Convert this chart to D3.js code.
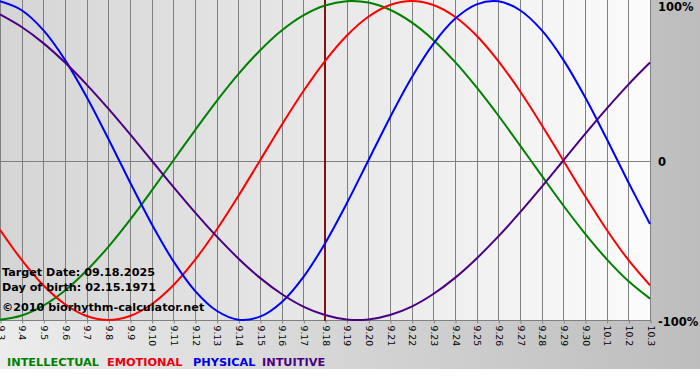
<!DOCTYPE html>
<html>
<head>
<meta charset="utf-8">
<script src="https://cdn.jsdelivr.net/npm/d3@7"></script>
<style>
  html, body { margin: 0; padding: 0; background: #ffffff; }
  svg { display: block; }
</style>
</head>
<body>
<svg id="chart" width="700" height="380"></svg>
<script>
// ---- data ----
const tickLabels = ["9.3","9.4","9.5","9.6","9.7","9.8","9.9","9.10","9.11","9.12","9.13","9.14","9.15","9.16","9.17","9.18","9.19","9.20","9.21","9.22","9.23","9.24","9.25","9.26","9.27","9.28","9.29","9.30","10.1","10.2","10.3"];
const intellectual = [-0.999,-0.972,-0.910,-0.815,-0.690,-0.541,-0.372,-0.189,0,0.189,0.372,0.541,0.690,0.815,0.910,0.972,0.999,0.990,0.945,0.866,0.756,0.618,0.458,0.282,0.095,-0.095,-0.282,-0.458,-0.618,-0.756,-0.866];
const emotional = [-0.434,-0.623,-0.782,-0.901,-0.975,-1,-0.975,-0.901,-0.782,-0.623,-0.434,-0.223,0,0.223,0.434,0.623,0.782,0.901,0.975,1,0.975,0.901,0.782,0.623,0.434,0.223,0,-0.223,-0.434,-0.623,-0.782];
const physical = [0.998,0.942,0.817,0.631,0.398,0.136,-0.136,-0.398,-0.631,-0.817,-0.942,-0.998,-0.979,-0.888,-0.731,-0.520,-0.270,0,0.270,0.520,0.731,0.888,0.979,0.998,0.942,0.817,0.631,0.398,0.136,-0.136,-0.398];
const intuitive = [0.916,0.837,0.736,0.614,0.476,0.325,0.165,0,-0.165,-0.325,-0.476,-0.614,-0.736,-0.837,-0.916,-0.969,-0.997,-0.997,-0.969,-0.916,-0.837,-0.736,-0.614,-0.476,-0.325,-0.165,0,0.165,0.325,0.476,0.614];
const seriesNames = ["INTELLECTUAL","EMOTIONAL","PHYSICAL","INTUITIVE"];
const targetIndex = 15;
const yTickValues = [1, 0, -1];
const yTickLabels = ["100%", "0", "-100%"];
const infoLines = ["Target Date: 09.18.2025", "Day of birth: 02.15.1971"];
const copyright = "\u00a92010 biorhythm-calculator.net";

// ---- styles ----
const colors = ["#008000", "#ff0000", "#0000ff", "#4b0082"];
const legendColors = ["#008000", "#e8000b", "#0000e0", "#4b0082"];
const legendX = [7, 107, 193, 262];
const font = "'DejaVu Sans', Verdana, sans-serif";

const svg = d3.select("#chart");
const defs = svg.append("defs");
const outerGrad = defs.append("linearGradient").attr("id", "outerGrad")
  .attr("x1", "0%").attr("x2", "100%").attr("y1", "0%").attr("y2", "0%");
outerGrad.append("stop").attr("offset", "0%").attr("stop-color", "#ececec");
outerGrad.append("stop").attr("offset", "100%").attr("stop-color", "#bdbdbd");
const plotGrad = defs.append("linearGradient").attr("id", "plotGrad")
  .attr("x1", "0%").attr("x2", "100%").attr("y1", "0%").attr("y2", "0%");
plotGrad.append("stop").attr("offset", "0%").attr("stop-color", "#d5d5d5");
plotGrad.append("stop").attr("offset", "100%").attr("stop-color", "#fbfbfb");

const W = 700;
const plotLeft = 0, plotRight = 650, plotTop = 0, plotBottom = 321;

svg.append("rect").attr("x", 0).attr("y", 0).attr("width", W).attr("height", 369)
  .attr("fill", "url(#outerGrad)");
svg.append("rect").attr("x", plotLeft).attr("y", plotTop)
  .attr("width", plotRight - plotLeft + 1).attr("height", plotBottom - plotTop)
  .attr("fill", "url(#plotGrad)");

const x = d3.scaleLinear().domain([0, tickLabels.length - 1]).range([plotLeft, plotRight]);
const y = d3.scaleLinear().domain([-1, 1]).range([320, 1]);

// vertical grid
svg.append("g").selectAll("line").data(d3.range(tickLabels.length)).join("line")
  .attr("x1", d => Math.round(x(d)) + 0.5).attr("x2", d => Math.round(x(d)) + 0.5)
  .attr("y1", plotTop).attr("y2", plotBottom)
  .attr("stroke", "#808080").attr("stroke-width", 1);
// zero line
svg.append("line")
  .attr("x1", plotLeft).attr("x2", plotRight + 1)
  .attr("y1", Math.round(y(0)) + 0.5).attr("y2", Math.round(y(0)) + 0.5)
  .attr("stroke", "#808080").attr("stroke-width", 1);

// x axis
const xAxis = d3.axisBottom(x)
  .tickValues(d3.range(tickLabels.length))
  .tickFormat(i => tickLabels[i])
  .tickSize(3).tickPadding(0);
const gx = svg.append("g").attr("transform", `translate(0.5,${plotBottom - 0.5})`).call(xAxis);
gx.select(".domain").attr("stroke", "#808080").attr("d", `M${plotLeft - 0.5},0H${plotRight + 0.5}`);
gx.selectAll(".tick line").attr("stroke", "#808080");
gx.selectAll(".tick text")
  .attr("font-family", font).attr("font-size", "9.3px").attr("fill", "#000")
  .attr("text-anchor", "start")
  .attr("transform", "translate(0,5) rotate(90)")
  .attr("x", 0).attr("y", 0).attr("dy", "0.35em");

// target marker
svg.append("line")
  .attr("x1", x(targetIndex)).attr("x2", x(targetIndex))
  .attr("y1", plotTop).attr("y2", plotBottom)
  .attr("stroke", "#7a1414").attr("stroke-width", 2);

// curves
const allSeries = [intellectual, emotional, physical, intuitive];
const line = d3.line().x((d, i) => x(i)).y(d => y(d)).curve(d3.curveCatmullRom.alpha(0.5));
svg.append("g").selectAll("path").data(allSeries).join("path")
  .attr("d", d => line(d))
  .attr("fill", "none")
  .attr("stroke", (d, i) => colors[i])
  .attr("stroke-width", 2);

// right labels
const yLabelY = [11, 166, 326];
svg.append("g").selectAll("text").data(yTickValues).join("text")
  .attr("x", 658).attr("y", (d, i) => yLabelY[i])
  .attr("font-family", font).attr("font-size", "11.5px").attr("font-weight", "bold")
  .attr("fill", "#000")
  .text((d, i) => yTickLabels[i]);

// info text
svg.append("g").selectAll("text").data(infoLines.concat([copyright])).join("text")
  .attr("x", 2).attr("y", (d, i) => [276, 291, 311][i])
  .attr("font-family", font).attr("font-size", "11.2px").attr("font-weight", "bold")
  .attr("fill", "#000")
  .text(d => d);

// legend
svg.append("g").selectAll("text").data(seriesNames).join("text")
  .attr("x", (d, i) => legendX[i]).attr("y", 366)
  .attr("font-family", font).attr("font-size", "11.3px").attr("font-weight", "bold")
  .attr("fill", (d, i) => legendColors[i])
  .text(d => d);
</script>
</body>
</html>
